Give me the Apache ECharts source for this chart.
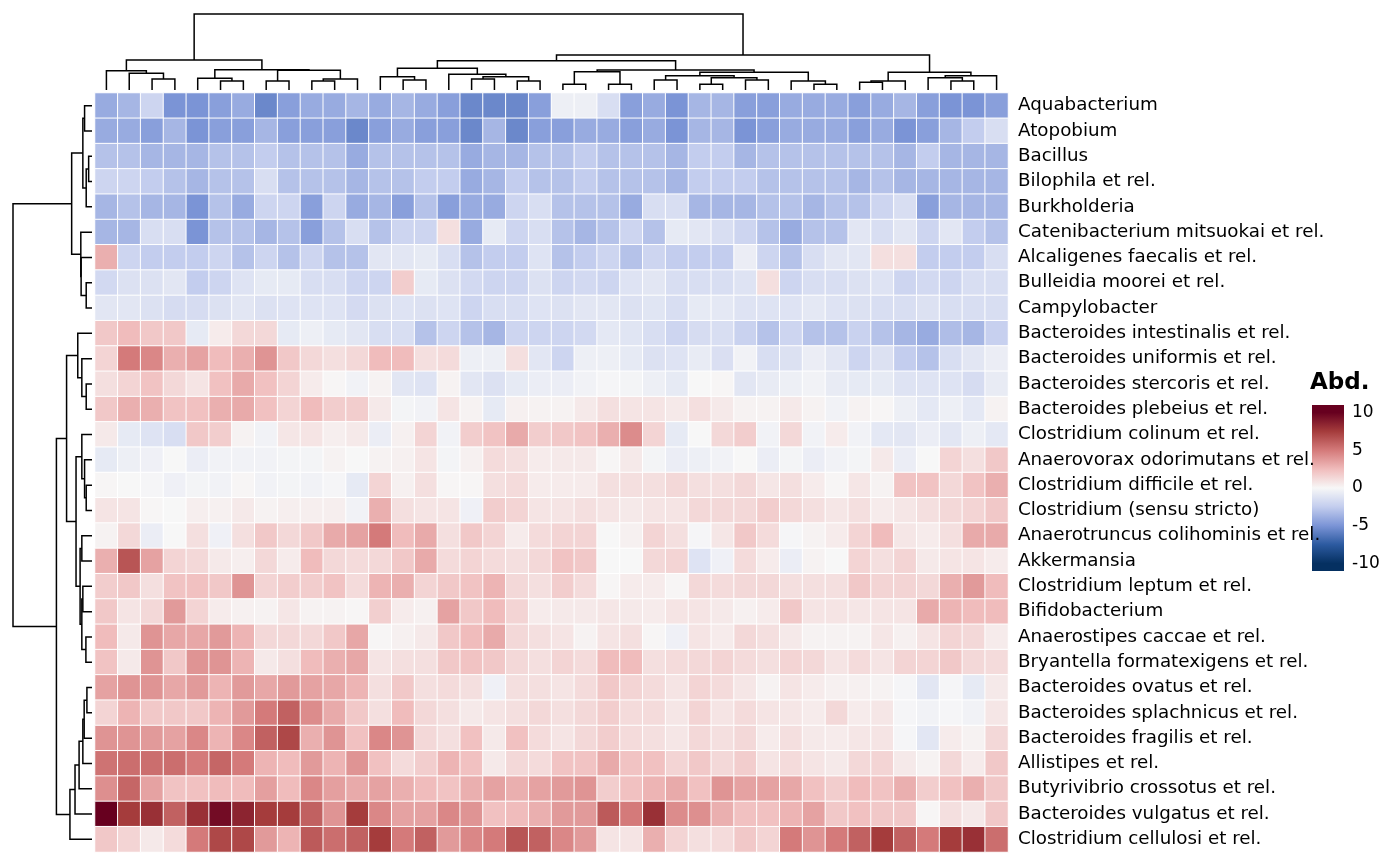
<!DOCTYPE html>
<html><head><meta charset="utf-8">
<script src="https://cdn.jsdelivr.net/npm/echarts@6/dist/echarts.min.js"></script>
<style>html,body{margin:0;background:#fff}#c{width:1400px;height:866px}</style>
</head><body><div id="c"></div>
<script>
const rowNames = ["Aquabacterium","Atopobium","Bacillus","Bilophila et rel.","Burkholderia","Catenibacterium mitsuokai et rel.","Alcaligenes faecalis et rel.","Bulleidia moorei et rel.","Campylobacter","Bacteroides intestinalis et rel.","Bacteroides uniformis et rel.","Bacteroides stercoris et rel.","Bacteroides plebeius et rel.","Clostridium colinum et rel.","Anaerovorax odorimutans et rel.","Clostridium difficile et rel.","Clostridium (sensu stricto)","Anaerotruncus colihominis et rel.","Akkermansia","Clostridium leptum et rel.","Bifidobacterium","Anaerostipes caccae et rel.","Bryantella formatexigens et rel.","Bacteroides ovatus et rel.","Bacteroides splachnicus et rel.","Bacteroides fragilis et rel.","Allistipes et rel.","Butyrivibrio crossotus et rel.","Bacteroides vulgatus et rel.","Clostridium cellulosi et rel."];
const legendTicks = [10,5,0,-5,-10];
const abd = [
[-4,-3.5,-2,-5,-5,-4.5,-4,-5.5,-4.5,-4,-4,-3.5,-4,-3.5,-4,-4.5,-5.5,-5.5,-5.5,-4.5,-0.5,-0.5,-1.5,-4.5,-4,-5,-3.5,-3.5,-4.5,-4.5,-4,-4,-4,-4.5,-4,-3.5,-4.5,-5,-5,-4.5],
[-4,-4,-4.5,-3.5,-5,-4.5,-4.5,-3.5,-4.5,-4.5,-4.5,-5.5,-4.5,-4,-4.5,-4.5,-5.5,-3.5,-5.5,-4.5,-4.5,-4,-4,-4.5,-4,-5,-3.5,-3.5,-5,-4.5,-4,-4,-4,-4.5,-4,-5,-4.5,-3.5,-2.5,-1.5],
[-3,-3,-3.5,-3.5,-3.5,-3,-3,-2.5,-3,-3,-3,-4,-3,-3,-3,-3,-4,-3.5,-3.5,-3,-3,-2.5,-3,-3,-3,-3.5,-2.5,-2.5,-3.5,-3,-3,-3,-3,-3,-3,-3.5,-2.5,-3.5,-3.5,-3.5],
[-2,-2,-2.5,-3,-3.5,-3,-3,-1.5,-3,-3,-3,-3.5,-3,-3,-2.5,-2.5,-4,-3.5,-2.5,-3,-3,-2.5,-3,-3,-3,-3.5,-2.5,-2.5,-2.5,-3,-3,-3,-3,-3.5,-3,-3.5,-3.5,-3.5,-3.5,-3.5],
[-3.5,-3,-3.5,-3.5,-5,-3,-4,-2,-2,-4.5,-2,-4,-3.5,-4.5,-3,-4.5,-4,-4,-2,-1.5,-3,-3,-3,-4,-1.5,-1.5,-3.5,-3.5,-3.5,-3,-3,-3.5,-3,-3,-2,-1.5,-4.5,-3.5,-3.5,-3.5],
[-3.5,-3.5,-1.5,-1.5,-5,-3,-3,-3.5,-3,-4.5,-3,-1.5,-3,-2,-2,1,-4,-0.8,-2,-1.5,-3,-3.5,-3,-2,-3,-0.8,-1,-1.5,-2,-3,-4,-3,-3,-1,-1.5,-1,-2,-1,-2.5,-3],
[3,-2,-2.5,-2.5,-2.5,-2,-3,-2,-3,-2,-3,-3,-1,-1,-0.8,-1.5,-3,-2.5,-2.5,-1.2,-3,-2.5,-2,-3,-2,-2.5,-2.5,-2.5,-0.6,-2,-3,-1.5,-1,-1,1,1,-2.5,-2.5,-2.5,-1.5],
[-1.8,-1.3,-1.3,-1,-2.5,-2,-1.2,-0.8,-0.8,-1.5,-1.5,-2,-2,1.8,-0.8,-1.3,-1.8,-2,-2,-1.3,-2,-1.8,-2,-1.2,-1,-1.5,-1.5,-1.5,-1.2,1,-2,-1.5,-1.5,-1.3,-1.2,-2,-1.8,-2,-1.5,-1.5],
[-1,-1,-1.3,-1.6,-1.6,-1.3,-1,-1.3,-1.2,-1.2,-1.2,-1.7,-1.3,-1.2,-1.3,-1.2,-2,-1.5,-1.5,-1.2,-1.3,-1,-1,-1.3,-1.1,-1.5,-0.8,-0.9,-1.2,-1.2,-1.2,-0.9,-1.2,-1.3,-1.5,-1.5,-1.3,-1.5,-1.5,-1.5],
[2,2.5,2,2,-0.8,0.5,1.3,1.3,-0.8,-0.5,-0.8,-1,-1.5,-1.5,-3,-2,-3,-3.5,-2,-2,-2,-1.8,-0.9,-1.1,-1.5,-2,-1.6,-1.5,-2.2,-3,-2,-3,-3,-2.2,-3,-3.5,-4,-3.2,-3.5,-2.3],
[1.5,5,4.5,3,3.5,2.5,3,4,2,1.3,1,1.3,2.5,2.5,1,1.2,-0.5,-0.5,1,-1,-2,-0.5,-0.5,-0.8,-1.3,-1.2,-0.7,-1.4,-0.3,-1.5,-1.3,-0.6,-1,-2,-1.3,-2.5,-3,-1.5,-1,-0.6],
[1,1.5,2.2,1.3,0.8,2.3,3.2,2.3,1.5,0.5,0.1,-0.3,0.2,-1,-1.2,0.2,-1,-1.3,-0.8,-0.6,-0.6,-0.3,-0.1,-0.2,-0.5,-0.8,0,0.1,-1,-0.7,-0.5,-0.3,-0.7,-0.8,-0.8,-1.2,-1.2,-1.2,-1.6,-0.7],
[2,3,3,2.2,2.3,3,3.2,2.3,1.5,2.5,1.8,1.8,0.6,-0.2,-0.3,0.8,0.2,-0.8,0.3,0.2,0.2,0.6,1,0.8,0.8,0.6,1,0.6,0.2,0.2,0.6,0.2,-0.3,0.2,0.1,-0.5,-0.9,-0.5,-0.9,0.2],
[0.6,-0.8,-1.2,-1.5,2,1.8,0.2,-0.3,0.7,0.8,0.4,0.6,-0.6,0.3,1.5,-0.3,1.8,2.2,3.2,1.8,2,2.2,3,4.3,1.5,-0.8,0,1.3,1.8,-0.3,1.3,-0.3,0.5,-0.3,-0.9,-1,-0.6,-1,-0.5,-0.9],
[-0.8,-0.5,-0.4,0,-0.6,-0.3,-0.3,-0.3,-0.2,-0.2,0.2,0,0.2,0.3,0.8,-0.2,0.3,1.2,1,0.5,0.6,0.6,0.1,0.6,-0.2,-0.6,-0.5,-0.3,0,-0.6,-0.2,-0.6,-0.3,-0.2,0.6,-0.6,0,1.5,1,2],
[0.1,0,-0.1,-0.4,-0.2,-0.3,0.1,-0.3,-0.2,-0.3,-0.1,-0.8,1.5,0.3,1,0.1,0.1,1,1.2,0.5,0.5,0.5,1,1,1,1.3,1,1,1.3,0.7,1,0.5,0.1,0.7,0.2,2.2,2.2,1.3,2.2,3],
[0.8,0.8,0.1,0,0.4,0.3,0.6,0.2,0.4,0.4,0.4,-0.3,3,1,0.8,0.8,-0.4,1.8,1.5,0.8,0.8,1,0.8,0.6,0.8,0.8,1.3,1.3,1.3,1.8,1.3,1,0.7,1,0.5,0.7,1,1.3,1.5,2],
[0.2,1.3,-0.6,0,1,-0.4,1,2,1.3,2,3.2,3.5,5,2.5,3.2,1,2,1.5,0.5,1.2,1.5,1.5,0,0.3,1.5,1,-0.1,0.7,2,1.2,-0.1,0.2,0.5,1.5,2.5,0.7,0.5,1,3.2,3.2],
[3,6.5,3.5,1.5,1.3,0.6,0.4,1.3,0.5,2.5,1.3,1.2,1.3,2,3.2,1.2,1.5,1.2,1,1.3,2.2,2,0,0,1.3,1.5,-1.2,-0.4,1.2,0.5,-0.6,0.2,0,1.5,1,1.5,0.6,0.8,0.8,0.5],
[1.8,2,1,2.2,2.3,2,4,1.5,1.8,1.8,2.2,1.2,2.8,3,1.5,2,2.2,2.8,1.3,1,1.8,1.2,0.1,0.5,0.5,0.1,1.3,1.2,1.3,1.3,1,1,1,2,1.5,1.5,1.3,3,3.8,2.5],
[2,0.8,1.3,3.8,1.5,0.5,0.3,0.2,0.7,0.2,0.2,0.1,1.7,0.5,0.3,3.5,2,2.5,1.5,0.5,0.6,0.6,0.7,0.6,0.5,0.8,0.8,0.6,0.3,0.5,2,0.8,0.8,0.7,0.8,0.8,3.2,2.8,2.5,2.5],
[2.5,0.6,4,3.3,3.3,3.8,2.8,1.3,1.3,1.3,2,3.3,0.1,0.3,0.6,2,2.5,3.2,1.3,1,0.8,0.2,0.8,1,0.1,-0.4,0.8,0.5,1.3,1,0.6,0.2,0.2,0.2,0.7,0.3,0.8,1.5,1.3,0.5],
[2.2,0.6,4,2,4,4,2.8,0.6,1,2.5,3,3.3,0.8,1,1,2,2.2,2,1.3,1,1.5,1.2,2.5,2.5,1,1.2,1.3,1.5,1.2,1,1.5,1.3,0.8,1.2,0.8,1.5,1.5,2,1.3,1.2],
[3.5,4,4,3.3,3.8,2.8,3.8,3.3,3.8,3.5,3.3,2.8,1,2,1,1.2,1,-0.4,1,1,0.8,1.2,2,1.5,1.2,0.8,1.5,1.2,0.7,0.2,0.8,0.5,0.3,0.3,0.2,-0.1,-1,-0.1,-0.8,0.6],
[1.5,2.8,2,2,2,2.8,3.8,5,6,4.3,3.2,2,1,2.5,1.3,1,0.6,0.8,1,1.3,1,1.3,1.8,1.2,1.2,0.7,1.5,0.8,1.2,0.8,0.7,0.5,1.3,0.5,0.7,-0.1,-0.3,-0.1,-0.3,0.7],
[4,4,3.8,3.5,4.5,2.8,4.5,6,7,3,4,2.3,4.5,4,1.3,1,2.3,0.6,2.3,1.2,0.8,1.3,1.8,1.2,1,0.7,1.3,1,1.3,0.5,1,0.6,0.5,0.7,0.8,-0.1,-1,0.5,0.2,1.3],
[5.3,5.5,5.5,5.5,5,5.8,5,2.8,2.5,3.8,2.8,4,2.3,1.2,1.8,2.8,2.3,0.6,1.3,1.2,2.2,2.2,3.2,2.2,2.3,1.5,2,1.3,1.8,0.8,1.2,0.8,0.6,1.3,1.5,0.6,0.2,1.3,0.5,2],
[4.2,5.8,3.5,2.2,2.3,2.5,2.5,3.6,2.5,4.5,3.6,3.2,3.5,3,2.5,2.2,3,3.5,3,3.5,3.8,4,1.8,2.3,2.8,3.2,2.3,4,3.5,3.5,3.3,2.3,1.8,2.5,2.2,3,1.8,2.3,3,2],
[10,7.5,8,6,8,9.5,8.5,7.5,7.5,6,4,7.5,4.5,3.5,3.5,4.5,4,2.3,2.5,3,3.8,3.8,6.3,5,8,4.3,4.2,3,2.3,2.3,2.8,3.5,2,2.3,2,2,0.1,1,0.6,2],
[2,1.5,0.6,1.2,5,7,7,3.8,2.8,6.3,5.5,6,7.5,5,6,3.8,4.5,5,6.5,6,4.5,3.8,0.8,0.8,3,1.5,1,1.2,2,1.5,5,4,5,6,7.5,6,5,7.5,8,5.5]
];
// dendrograms: node = [left, right, mergeHeight]; numbers are leaf indices
const colLeft = [[0,[1,[2,3,11],16.7],19.3], [[4,[5,6,9],11.7],[[7,8,9],[[9,10,9],11,11],19.7],20.3], 30];
const colMidA = [[12,[13,14,10],13.3],[15,[[16,17,11],[18,19,9],13.3],15.7],21.7];
const colMidB = [[[20,21,5.7],[22,23,5.7],18.3],[[[24,25,10],[[26,27,5.7],[28,29,10],12.3],14.3],[30,[31,32,5.7],9],17.7],20];
const colRight = [[[33,34,7.7],35,9],[[36,[37,38,9],12.3],39,14.3],17.7];
const colTree = [colLeft, [[colMidA, colMidB, 29.3], colRight, 35], 76];
const rowTree = [
  [[[0,1,7.3],[[2,3,3.3],4,5.7],9],[5,[6,[7,8,5.7],10.7],11],20],
  [[[9,[10,[11,12,5.7],10],14],
    [[13,[14,[15,16,5.7],7.3],10],[[17,18,10],[[19,20,9],[21,22,6],10],11.7],15.7],25],
   [[[[[[23,24,5],25,7.7],26,9],27,12.7],28,16.7],29,21.7],35], 77.7];

function segs(t,out){ // returns [pos,height]
  if(typeof t==='number') return [t,0];
  const a=segs(t[0],out), b=segs(t[1],out);
  out.push([a[0],a[1],b[0],b[1],t[2]]);
  return [(a[0]+b[0])/2,t[2]];
}
const colSegs=[], rowSegs=[];
segs(colTree,colSegs); segs(rowTree,rowSegs);

const heat=[];
abd.forEach((r,i)=>r.forEach((v,j)=>heat.push([j,i,v])));
const nCol=abd[0].length;
const stops=['#053061','#2c5aa0','#7b94d6','#c3cdee','#f7f7f7','#f0bcbc','#d47a7a','#a53c3c','#67001f'];

const chart=echarts.init(document.getElementById('c'));
chart.setOption({
  animation:false,
  grid:[
    {left:95,top:93,width:913,height:759},
    {left:95,top:14,width:913,height:76},
    {left:13,top:93,width:79,height:759},
    {left:1312,top:405,width:32,height:166}
  ],
  xAxis:[
    {gridIndex:0,type:'category',data:Array.from({length:nCol},(_,i)=>i),show:false},
    {gridIndex:1,type:'value',min:-0.5,max:nCol-0.5,show:false},
    {gridIndex:2,type:'value',min:0,max:77.7,inverse:true,show:false},
    {gridIndex:3,type:'value',min:0,max:1,show:false}
  ],
  yAxis:[
    {gridIndex:0,type:'category',data:rowNames,inverse:true,position:'right',
     axisLine:{show:false},axisTick:{show:false},
     axisLabel:{fontFamily:'DejaVu Sans',fontSize:18.3,color:'#000',margin:10,padding:[3,0,0,0]}},
    {gridIndex:1,type:'value',min:0,max:76,show:false},
    {gridIndex:2,type:'value',min:-0.5,max:rowNames.length-0.5,inverse:true,show:false},
    {gridIndex:3,type:'value',min:-11,max:11,position:'right',
     axisLine:{show:false},splitLine:{show:false},
     axisTick:{show:true,inside:true,length:5,lineStyle:{color:'#fff',width:1.5},customValues:legendTicks},
     axisLabel:{fontFamily:'DejaVu Sans',fontSize:17,color:'#000',margin:8,customValues:legendTicks}
    }
  ],
  visualMap:{show:false,min:-10,max:10,seriesIndex:0,inRange:{color:stops}},
  graphic:[
    {type:'rect',shape:{x:1312,y:405,width:32,height:166},z:-1,
     style:{fill:new echarts.graphic.LinearGradient(0,0,0,1,stops.slice().reverse().map((c,i)=>({offset:(1/22)+i*(20/22)/(stops.length-1),color:c})))}},
    {type:'text',left:1310,top:372,style:{text:'Abd.',font:'bold 23px DejaVu Sans',fill:'#000'}}
  ],
  series:[
    {type:'heatmap',xAxisIndex:0,yAxisIndex:0,data:heat,
     itemStyle:{borderColor:'#fff',borderWidth:1}},
    {type:'custom',xAxisIndex:1,yAxisIndex:1,data:colSegs,
     renderItem:(p,api)=>{const a=api.coord([api.value(0),api.value(1)]),b=api.coord([api.value(0),api.value(4)]),
       c=api.coord([api.value(2),api.value(4)]),d=api.coord([api.value(2),api.value(3)]);
       return {type:'polyline',shape:{points:[a,b,c,d]},style:{stroke:'#000',lineWidth:1.5,fill:null}};}},
    {type:'custom',xAxisIndex:2,yAxisIndex:2,data:rowSegs,
     renderItem:(p,api)=>{const a=api.coord([api.value(1),api.value(0)]),b=api.coord([api.value(4),api.value(0)]),
       c=api.coord([api.value(4),api.value(2)]),d=api.coord([api.value(3),api.value(2)]);
       return {type:'polyline',shape:{points:[a,b,c,d]},style:{stroke:'#000',lineWidth:1.5,fill:null}};}}
  ]
});
</script></body></html>
